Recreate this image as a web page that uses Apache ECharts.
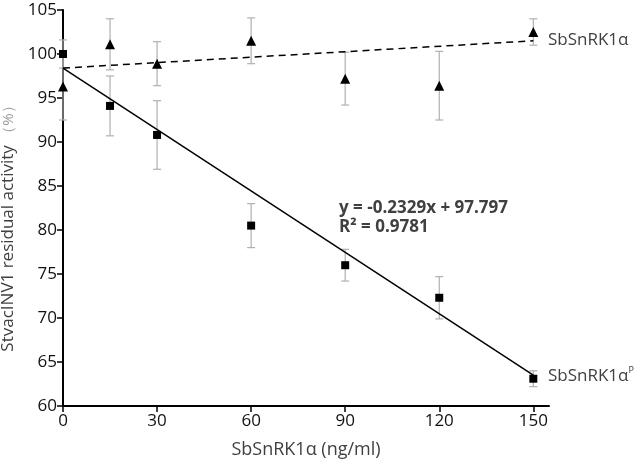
<!DOCTYPE html>
<html><head><meta charset="utf-8">
<script src="https://cdn.jsdelivr.net/npm/echarts@6/dist/echarts.min.js"></script>
<style>html,body{margin:0;padding:0;background:#fff}#c{width:641px;height:461px}</style>
</head><body><div id="c"></div>
<script>
const xValues = [0, 15, 30, 60, 90, 120, 150];
const alphaMean = [96.3, 101.1, 98.9, 101.5, 97.2, 96.4, 102.5];
const alphaErr  = [3.8, 2.9, 2.5, 2.6, 3.0, 3.9, 1.5];
const alphaPMean = [100.0, 94.1, 90.8, 80.5, 76.0, 72.3, 63.1];
const alphaPErr  = [1.6, 3.4, 3.9, 2.5, 1.8, 2.4, 0.9];
const fitSolid = [[0, 98.4], [150, 63.5]];
const fitDashed = [[0, 98.4], [150, 101.5]];
const xTicks = [0, 30, 60, 90, 120, 150];

const chart = echarts.init(document.getElementById('c'), null, {renderer: 'canvas'});
const font = 'Open Sans';

function errData(means, errs) {
  return xValues.map((x, i) => [x, means[i] - errs[i], means[i] + errs[i]]);
}
function errRender(params, api) {
  const x = api.value(0);
  const lo = api.coord([x, api.value(1)]);
  const hi = api.coord([x, api.value(2)]);
  const w = 4;
  const st = {stroke: '#b0b0b0', lineWidth: 1.2, fill: null};
  return {type: 'group', children: [
    {type: 'line', shape: {x1: lo[0], y1: lo[1], x2: hi[0], y2: hi[1]}, style: st},
    {type: 'line', shape: {x1: lo[0]-w, y1: lo[1], x2: lo[0]+w, y2: lo[1]}, style: st},
    {type: 'line', shape: {x1: hi[0]-w, y1: hi[1], x2: hi[0]+w, y2: hi[1]}, style: st}
  ]};
}

chart.setOption({
  animation: false,
  grid: {left: 63, right: 92, top: 10, bottom: 55, containLabel: false, outerBoundsMode: 'none'},
  xAxis: {
    type: 'value', min: 0, max: 155, interval: 30,
    name: 'SbSnRK1α (ng/ml)', nameLocation: 'middle', nameGap: 35,
    nameTextStyle: {fontFamily: font, fontSize: 18, color: '#404040'},
    axisLine: {show: true, lineStyle: {color: '#000', width: 2}},
    axisTick: {show: true, length: 6, lineStyle: {color: '#000', width: 1.5}, customValues: xTicks},
    axisLabel: {fontFamily: font, fontSize: 17, color: '#111', margin: 7, customValues: xTicks},
    splitLine: {show: false}
  },
  yAxis: {
    type: 'value', min: 60, max: 105, interval: 5,
    name: '{a|StvacINV1 residual activity }{b|（%）}', nameLocation: 'middle', nameGap: 45, nameRotate: 90,
    nameTextStyle: {padding: [0, 34, 0, 0], rich: {
      a: {fontFamily: font, fontSize: 17, color: '#404040'},
      b: {fontFamily: font, fontSize: 15, color: '#9a9a9a'}
    }},
    axisLine: {show: true, lineStyle: {color: '#000', width: 2}},
    axisTick: {show: true, length: 6, lineStyle: {color: '#000', width: 1.5}},
    axisLabel: {fontFamily: font, fontSize: 17, color: '#111', margin: 6},
    splitLine: {show: false}
  },
  series: [
    {type: 'custom', renderItem: errRender, data: errData(alphaMean, alphaErr), z: 1},
    {type: 'custom', renderItem: errRender, data: errData(alphaPMean, alphaPErr), z: 1},
    {type: 'line', data: fitDashed, symbol: 'none', lineStyle: {color: '#000', width: 1.5, type: [7, 5]}, z: 2},
    {type: 'line', data: fitSolid, symbol: 'none', lineStyle: {color: '#000', width: 1.5}, z: 2},
    {type: 'scatter', data: xValues.map((x, i) => [x, alphaMean[i]]), symbol: 'triangle', symbolSize: 10,
     itemStyle: {color: '#000', opacity: 1}, z: 3},
    {type: 'scatter', data: xValues.map((x, i) => [x, alphaPMean[i]]), symbol: 'rect', symbolSize: 8,
     itemStyle: {color: '#000', opacity: 1}, z: 3}
  ],
  graphic: [
    {type: 'text', left: 339, top: 200, style: {text: 'y = -0.2329x + 97.797', font: 'bold 17px "Open Sans"', fill: '#404040'}},
    {type: 'text', left: 339, top: 219, style: {text: 'R² = 0.9781', font: 'bold 17px "Open Sans"', fill: '#404040'}},
    {type: 'text', left: 548, top: 32, style: {text: 'SbSnRK1α', font: '17px "Open Sans"', fill: '#404040'}},
    {type: 'text', left: 548, top: 366, style: {rich: {
      m: {fontFamily: font, fontSize: 17, fill: '#404040'},
      s: {fontFamily: font, fontSize: 9, fill: '#404040', verticalAlign: 'top', padding: [0,0,11,0]}
    }, text: '{m|SbSnRK1α}{s|P}'}}
  ]
});
</script></body></html>
